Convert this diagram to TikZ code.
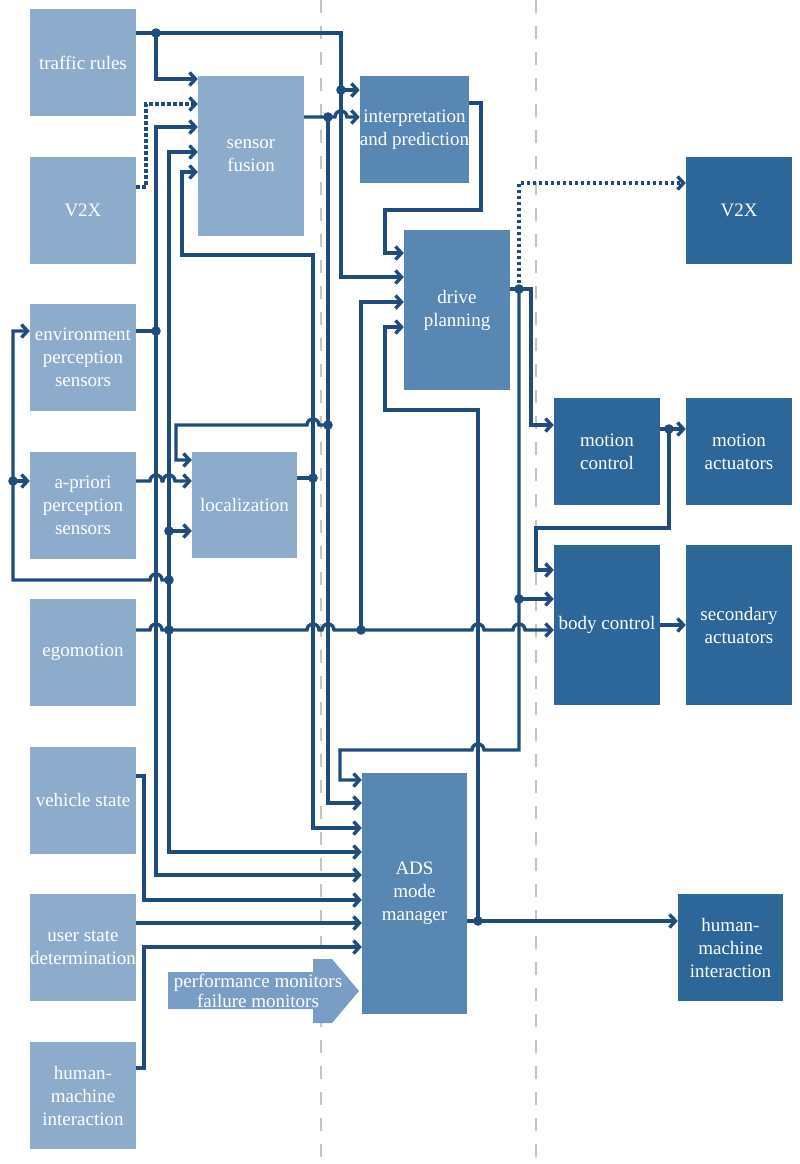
\documentclass[tikz,border=0pt]{standalone}
\usepackage{fontspec}
\setmainfont{Liberation Serif}
\usetikzlibrary{arrows.meta}
\definecolor{boxlight}{HTML}{8DACCB}
\definecolor{boxmid}{HTML}{5887B4}
\definecolor{boxdark}{HTML}{2D6699}
\definecolor{wire}{HTML}{1F4C7C}
\definecolor{monarrow}{HTML}{7A9DC6}
\definecolor{lane}{HTML}{C4C4C4}

\tikzset{
  blk/.style={rectangle, minimum width=106pt, minimum height=107pt, inner sep=0pt,
    text=white, align=center, font=\fontsize{19}{23}\selectfont},
  lightblk/.style={blk, fill=boxlight},
  midblk/.style={blk, fill=boxmid},
  darkblk/.style={blk, fill=boxdark},
  link/.style={line width=3.4pt, draw=wire},
  feed/.style={link, -{Straight Barb[length=6pt,width=13pt]}},
  radio/.style={feed, dash pattern=on 3.4pt off 2.6pt},
}

\begin{document}
\begin{tikzpicture}[x=1pt, y=-1pt]
  \useasboundingbox (0,0) rectangle (800,1164);

  % Domain borders
  \draw[lane, line width=2.5pt, dash pattern=on 13pt off 13pt] (321,0) -- (321,1164);
  \draw[lane, line width=2.5pt, dash pattern=on 13pt off 13pt] (536,0) -- (536,1164);

  % Input column
  \node[lightblk] (tr)   at (83,62.5)   {traffic rules};
  \node[lightblk] (v2xl) at (83,210)    {V2X};
  \node[lightblk] (env)  at (83,357.5)  {environment\\perception\\sensors};
  \node[lightblk] (apri) at (83,505)    {a-priori\\perception\\sensors};
  \node[lightblk] (ego)  at (83,652.5)  {egomotion};
  \node[lightblk] (veh)  at (83,800)    {vehicle state};
  \node[lightblk] (usr)  at (83,947.5)  {user state\\determination};
  \node[lightblk] (hmil) at (83,1095.5) {human-\\machine\\interaction};

  % Perception blocks
  \node[lightblk, minimum height=160pt] (sf) at (251,156) {sensor\\fusion};
  \node[lightblk, minimum width=105pt, minimum height=106pt] (loc) at (244.5,505) {localization};

  % Planning blocks
  \node[midblk, minimum width=105pt] (ip) at (414.5,129.5) {interpretation\\and prediction};
  \node[midblk, minimum height=160pt] (dp) at (457,310) {drive\\planning};
  \node[midblk, minimum width=105pt, minimum height=241pt] (ads) at (414.5,893.5) {ADS\\mode\\manager};

  % Output column
  \node[darkblk] (v2xr) at (739,210)   {V2X};
  \node[darkblk] (mc)   at (607,451.5) {motion\\control};
  \node[darkblk] (ma)   at (739,451.5) {motion\\actuators};
  \node[darkblk, minimum height=160pt] (bc) at (607,625) {body control};
  \node[darkblk, minimum height=160pt] (sa) at (739,625) {secondary\\actuators};
  \node[darkblk, minimum width=105pt] (hmir) at (730.5,947.5) {human-\\machine\\interaction};

  % Monitors arrow
  \fill[monarrow] (168,972) -- (313,972) -- (313,959) -- (332,959) -- (359,991)
    -- (332,1023) -- (313,1023) -- (313,1009) -- (168,1009) -- cycle;
  \node[text=white, align=center, font=\fontsize{19}{20}\selectfont] (perf) at (258,991)
    {performance monitors\\failure monitors};

  % Traffic rules
  \draw[feed] (tr.east |- 0,33) -- (341,33) -- (341,90) -- (ip.west |- 0,90);
  \draw[feed] (341,90) -- (341,277) -- (dp.west |- 0,277);
  \draw[feed] (156,33) -- (156,79) -- (sf.west |- 0,79);

  % V2X in (dotted)
  \draw[radio] (v2xl.east |- 0,187) -- (146,187) -- (146,104) -- (sf.west |- 0,104);

  % Environment sensors
  \draw[feed] (env.east |- 0,331) -- (156,331) -- (156,127) -- (sf.west |- 0,127);
  \draw[feed] (156,331) -- (156,875) -- (ads.west |- 0,875);

  % A-priori sensors
  \draw[feed] (apri.east |- 0,481) -- (150,481) arc[start angle=180, end angle=0, radius=6pt]
    -- (163,481) arc[start angle=180, end angle=0, radius=6pt] -- (loc.west |- 0,481);

  % Egomotion
  \draw[feed] (ego.east |- 0,630) -- (150,630) arc[start angle=180, end angle=0, radius=6pt]
    -- (307,630) arc[start angle=180, end angle=0, radius=6pt]
    -- (322,630) arc[start angle=180, end angle=0, radius=6pt]
    -- (472,630) arc[start angle=180, end angle=0, radius=6pt]
    -- (513,630) arc[start angle=180, end angle=0, radius=6pt] -- (bc.west |- 0,630);
  \draw[feed] (169,630) -- (169,152) -- (sf.west |- 0,152);
  \draw[feed] (169,630) -- (169,852) -- (ads.west |- 0,852);
  \draw[feed] (169,531) -- (loc.west |- 0,531);
  \draw[feed] (169,580) -- (162,580) arc[start angle=0, end angle=180, radius=6pt]
    -- (13,580) -- (13,331) -- (env.west |- 0,331);
  \draw[feed] (13,481) -- (apri.west |- 0,481);
  \draw[feed] (361,630) -- (361,302) -- (dp.west |- 0,302);

  % Sensor fusion
  \draw[feed] (sf.east |- 0,117) -- (335,117) arc[start angle=180, end angle=0, radius=6pt]
    -- (ip.west |- 0,117);
  \draw[feed] (328,117) -- (328,803) -- (ads.west |- 0,803);
  \draw[feed] (328,425) -- (319,425) arc[start angle=0, end angle=180, radius=6pt]
    -- (176,425) -- (176,460) -- (loc.west |- 0,460);

  % Localization
  \draw[link] (loc.east |- 0,478) -- (313,478);
  \draw[feed] (313,478) -- (313,255) -- (182,255) -- (182,172) -- (sf.west |- 0,172);
  \draw[feed] (313,478) -- (313,828) -- (ads.west |- 0,828);

  % Interpretation and prediction
  \draw[feed] (ip.east |- 0,103) -- (481,103) -- (481,210) -- (385,210) -- (385,253)
    -- (dp.west |- 0,253);

  % Drive planning
  \draw[link] (dp.east |- 0,289) -- (519,289);
  \draw[radio] (519,289) -- (519,183) -- (v2xr.west |- 0,183);
  \draw[feed] (519,289) -- (531,289) -- (531,425) -- (mc.west |- 0,425);
  \draw[feed] (519,289) -- (519,750) -- (484,750) arc[start angle=0, end angle=180, radius=6pt]
    -- (340,750) -- (340,780) -- (ads.west |- 0,780);
  \draw[feed] (519,599) -- (bc.west |- 0,599);

  % Motion and body control
  \draw[feed] (mc.east |- 0,429) -- (ma.west |- 0,429);
  \draw[feed] (669,429) -- (669,528) -- (536,528) -- (536,570) -- (bc.west |- 0,570);
  \draw[feed] (bc.east |- 0,625) -- (sa.west |- 0,625);

  % ADS mode manager
  \draw[feed] (ads.east |- 0,921) -- (hmir.west |- 0,921);
  \draw[feed] (478,921) -- (478,410) -- (385,410) -- (385,327) -- (dp.west |- 0,327);

  % Vehicle, user, HMI
  \draw[feed] (veh.east |- 0,776) -- (144,776) -- (144,900) -- (ads.west |- 0,900);
  \draw[feed] (usr.east |- 0,923) -- (ads.west |- 0,923);
  \draw[feed] (hmil.east |- 0,1068) -- (144,1068) -- (144,947) -- (ads.west |- 0,947);

  % Junctions
  \foreach \p in {(156,33),(341,90),(156,331),(169,630),(169,580),(169,531),(13,481),
      (361,630),(328,117),(328,425),(313,478),(478,921),(519,289),(519,599),(669,429)}
    \fill[wire] \p circle (4.8pt);
\end{tikzpicture}
\end{document}
